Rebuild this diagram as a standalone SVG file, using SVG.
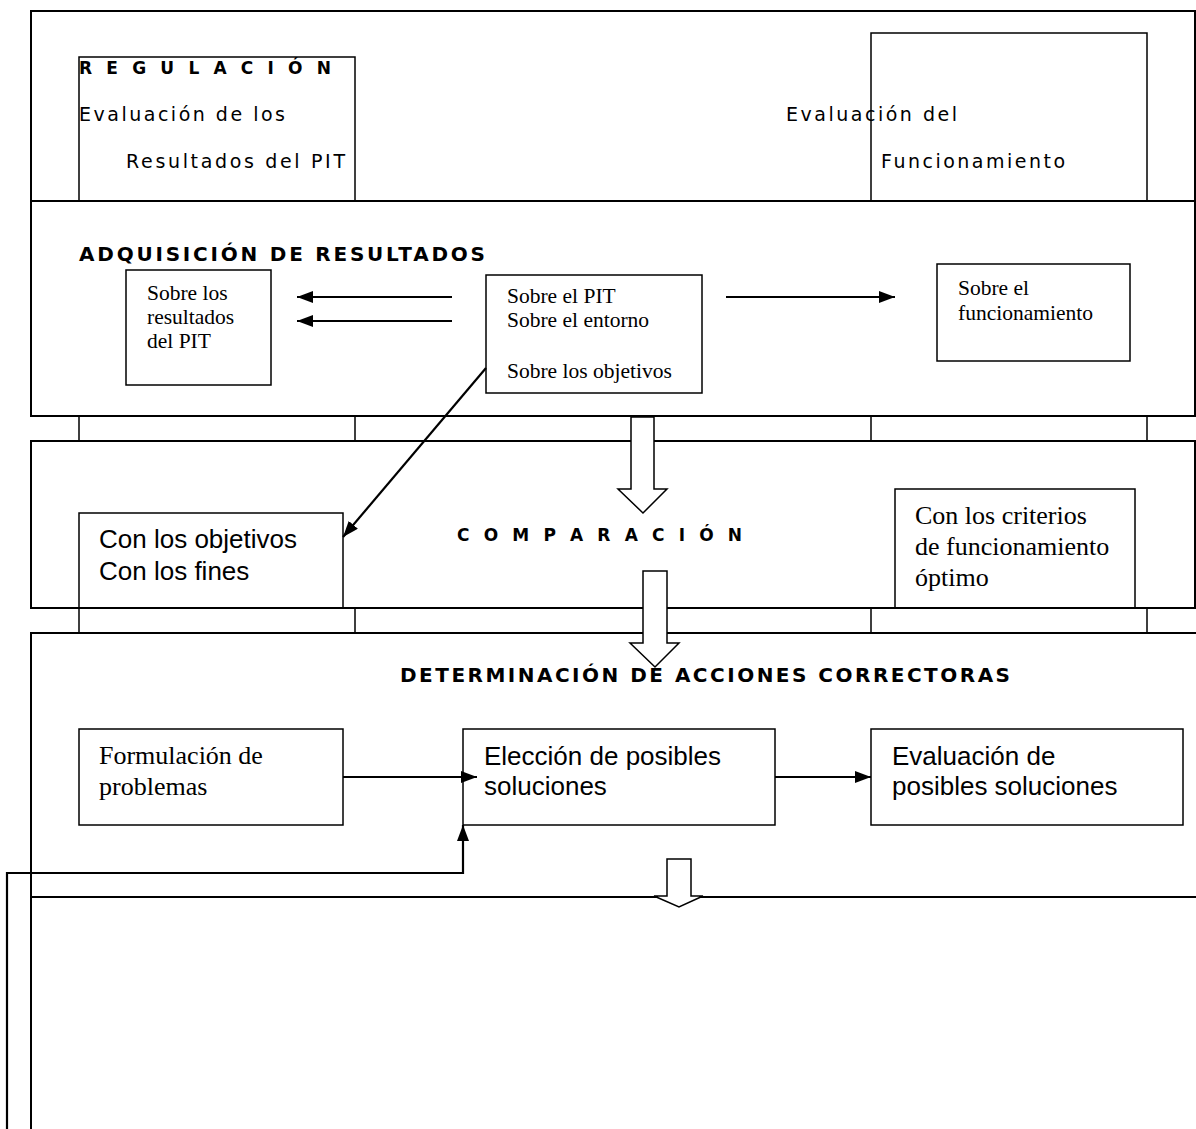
<svg xmlns="http://www.w3.org/2000/svg" width="1196" height="1129" viewBox="0 0 1196 1129">
<style>
.band{fill:none;stroke:#000;stroke-width:2}
.box{fill:none;stroke:#000;stroke-width:1.5}
.ln{fill:none;stroke:#000;stroke-width:1.5}
.arr{fill:none;stroke:#000;stroke-width:2.2;marker-end:url(#ah)}
.hol{fill:#fff;stroke:#000;stroke-width:1.5}
.tv{font-family:"DejaVu Sans",Verdana,sans-serif;font-size:19px;fill:#000}
.tb{font-family:"DejaVu Sans",Verdana,sans-serif;font-weight:bold;fill:#000}
.tr{font-family:"Liberation Serif","Times New Roman",serif;font-size:21.5px;fill:#000}
.trl{font-family:"Liberation Serif","Times New Roman",serif;font-size:26px;fill:#000}
.ta{font-family:"Liberation Sans",Arial,sans-serif;font-size:26px;fill:#000}
</style>
<defs>
<marker id="ah" markerUnits="userSpaceOnUse" markerWidth="16" markerHeight="12" refX="16" refY="6" orient="auto">
<path d="M0,0 L16,6 L0,12 z" fill="#000"/>
</marker>
</defs>
<rect width="1196" height="1129" fill="#fff"/>

<g id="bands">
<rect class="band" x="31" y="11" width="1164" height="190"/>
<rect class="band" x="31" y="201" width="1164" height="215"/>
<rect class="band" x="31" y="441" width="1164" height="167"/>
<path class="band" d="M1196,633 H31 V1129 M31,897 H1196"/>
<path class="ln" d="M79,416 V441 M355,416 V441 M871,416 V441 M1147,416 V441 M79,608 V633 M355,608 V633 M871,608 V633 M1147,608 V633"/>
</g>

<g id="regulacion">
<rect class="box" x="79" y="57" width="276" height="144"/>
<text class="tb" x="79" y="74" font-size="17" textLength="252" lengthAdjust="spacing">R E G U L A C I Ó N</text>
<text class="tv" x="79" y="121" textLength="206" lengthAdjust="spacing">Evaluación de los</text>
<text class="tv" x="126" y="168" textLength="219" lengthAdjust="spacing">Resultados del PIT</text>
</g>
<g id="eval-funcionamiento">
<rect class="box" x="871" y="33" width="276" height="168"/>
<text class="tv" x="786" y="121" textLength="171" lengthAdjust="spacing">Evaluación del</text>
<text class="tv" x="881" y="168" textLength="184" lengthAdjust="spacing">Funcionamiento</text>
</g>

<g id="adquisicion">
<text class="tb" x="79" y="261" font-size="20" textLength="406" lengthAdjust="spacing">ADQUISICIÓN DE RESULTADOS</text>
</g>
<g id="sobre-resultados">
<rect class="box" x="126" y="270" width="145" height="115"/>
<text class="tr" x="147" y="300">Sobre los</text>
<text class="tr" x="147" y="324">resultados</text>
<text class="tr" x="147" y="348">del PIT</text>
</g>
<g id="sobre-pit">
<rect class="box" x="486" y="275" width="216" height="118"/>
<text class="tr" x="507" y="303">Sobre el PIT</text>
<text class="tr" x="507" y="327">Sobre el entorno</text>
<text class="tr" x="507" y="378">Sobre los objetivos</text>
</g>
<g id="sobre-funcionamiento">
<rect class="box" x="937" y="264" width="193" height="97"/>
<text class="tr" x="958" y="295">Sobre el</text>
<text class="tr" x="958" y="320">funcionamiento</text>
</g>

<g id="comparacion">
<text class="tb" x="457" y="541" font-size="17" textLength="285" lengthAdjust="spacing">C O M P A R A C I Ó N</text>
</g>
<g id="con-objetivos">
<rect class="box" x="79" y="513" width="264" height="95"/>
<text class="ta" x="99" y="548">Con los objetivos</text>
<text class="ta" x="99" y="580">Con los fines</text>
</g>
<g id="con-criterios">
<rect class="box" x="895" y="489" width="240" height="119"/>
<text class="trl" x="915" y="524">Con los criterios</text>
<text class="trl" x="915" y="555">de funcionamiento</text>
<text class="trl" x="915" y="586">óptimo</text>
</g>

<g id="determinacion">
<text class="tb" x="400" y="682" font-size="20" textLength="610" lengthAdjust="spacing">DETERMINACIÓN DE ACCIONES CORRECTORAS</text>
</g>
<g id="formulacion">
<rect class="box" x="79" y="729" width="264" height="96"/>
<text class="trl" x="99" y="764">Formulación de</text>
<text class="trl" x="99" y="795">problemas</text>
</g>
<g id="eleccion">
<rect class="box" x="463" y="729" width="312" height="96"/>
<text class="ta" x="484" y="765">Elección de posibles</text>
<text class="ta" x="484" y="795">soluciones</text>
</g>
<g id="evaluacion-soluciones">
<rect class="box" x="871" y="729" width="312" height="96"/>
<text class="ta" x="892" y="765">Evaluación de</text>
<text class="ta" x="892" y="795">posibles soluciones</text>
</g>

<g id="connectors">
<line class="arr" x1="452" y1="297" x2="297" y2="297"/>
<line class="arr" x1="452" y1="321" x2="297" y2="321"/>
<line class="arr" x1="726" y1="297" x2="895" y2="297"/>
<line class="arr" x1="486" y1="368" x2="343" y2="537"/>
<line class="arr" x1="343" y1="777" x2="477" y2="777"/>
<line class="arr" x1="775" y1="777" x2="871" y2="777"/>
<polyline class="arr" points="7,1129 7,873 463,873 463,825"/>
<polygon class="hol" points="631,417 654,417 654,489 667,489 643,513 618,489 631,489"/>
<polygon class="hol" points="643,571 667,571 667,643 679,643 655,667 630,643 643,643"/>
<polygon class="hol" points="667,859 691,859 691,896 703,896 679,907 654,896 667,896"/>
</g>
</svg>
